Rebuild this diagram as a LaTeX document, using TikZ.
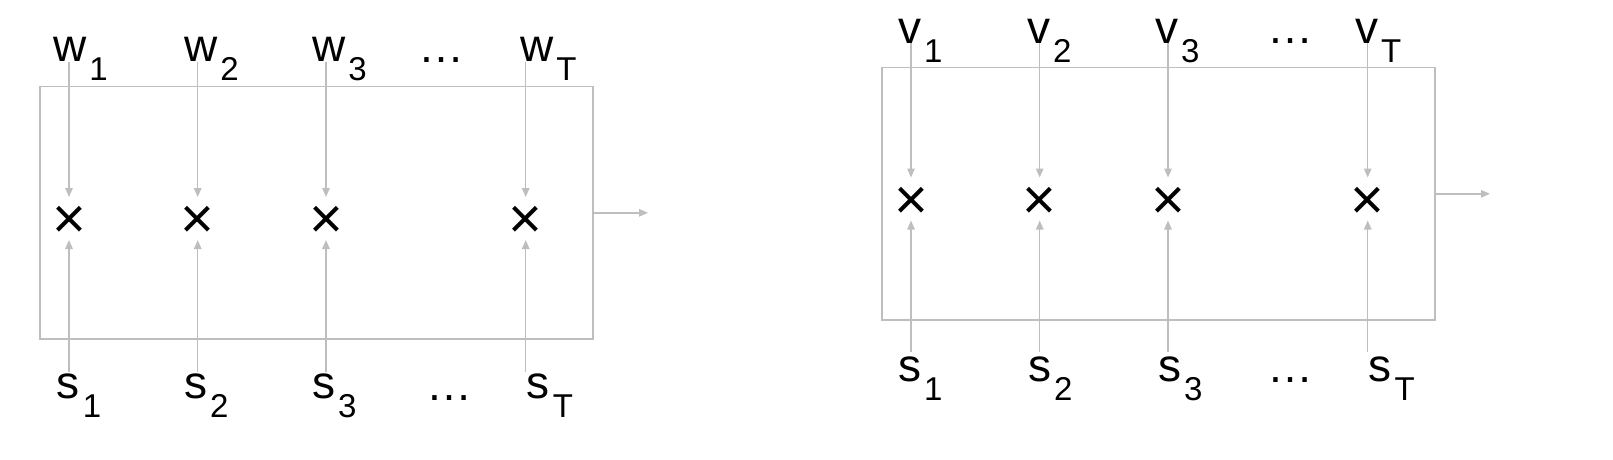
\documentclass[tikz,border=0pt]{standalone}
\usepackage{fontspec}
\setmainfont{Liberation Sans}
\usetikzlibrary{arrows.meta}
\newcommand{\mylbl}[2]{{\fontsize{46}{46}\selectfont #1}\kern3pt\raisebox{-19pt}{\fontsize{33}{33}\selectfont #2}}
\tikzset{
  box/.style={draw=linegray, line width=1.6pt},
  conn/.style={draw=linegray, line width=1.4pt, -{Triangle[length=9pt,width=7.5pt]}},
  lbl/.style={inner sep=0pt, anchor=base west},
  mult/.style={inner sep=0pt, font=\fontsize{58}{58}\selectfont},
  dots/.style={inner sep=0pt, anchor=base, font=\fontsize{46}{46}\selectfont},
  pt/.style={inner sep=0pt, minimum size=0pt}
}
\definecolor{linegray}{RGB}{190,190,190}
\begin{document}
\begin{tikzpicture}[x=1pt,y=-1pt]
\useasboundingbox (0,0) rectangle (1613,459);
% ---------- left block ----------
\node[box, pt, minimum width=553pt, minimum height=252.6pt, anchor=north west] (L) at (39,85.7) {};
\foreach \i/\cx/\lx in {1/69/53, 2/197.7/184, 3/326/312, T/525.7/520} {
  \node[mult] (Lx\i) at (\cx,222.5) {\symbol{"00D7}};
  \coordinate (Ltop\i) at (\cx,62);
  \coordinate (Lbot\i) at (\cx,371.7);
  \coordinate (Lti\i) at (\cx,197);
  \coordinate (Lbi\i) at (\cx,240);
  \node[lbl] (Lw\i) at (\lx,61.5) {\mylbl{w}{\i}};
  \draw[conn] (Ltop\i) -- (Lti\i);
  \draw[conn] (Lbot\i) -- (Lbi\i);
}
\foreach \i/\lx in {1/56.7, 2/184, 3/312, T/526.7} {
  \node[lbl] (Ls\i) at (\lx,398.3) {\mylbl{s}{\i}};
}
\node[dots] (Ldt) at (441,62) {\symbol{"2026}};
\node[dots] (Ldb) at (449,400) {\symbol{"2026}};
\coordinate (Lout) at (648,212);
\draw[conn] (L.east) -- (L.east -| Lout);
% ---------- right block ----------
\node[box, pt, minimum width=553.3pt, minimum height=252.6pt, anchor=north west] (R) at (881,66.7) {};
\foreach \i/\cx/\lx in {1/911/898, 2/1039.7/1027, 3/1168/1155, T/1367.7/1355} {
  \node[mult] (Rx\i) at (\cx,203) {\symbol{"00D7}};
  \coordinate (Rtop\i) at (\cx,43);
  \coordinate (Rbot\i) at (\cx,352.3);
  \coordinate (Rti\i) at (\cx,177.5);
  \coordinate (Rbi\i) at (\cx,220.5);
  \node[lbl] (Rv\i) at (\lx,43.3) {\mylbl{v}{\i}};
  \draw[conn] (Rtop\i) -- (Rti\i);
  \draw[conn] (Rbot\i) -- (Rbi\i);
}
\foreach \i/\lx in {1/898, 2/1028, 3/1158, T/1368.3} {
  \node[lbl] (Rs\i) at (\lx,381.7) {\mylbl{s}{\i}};
}
\node[dots] (Rdt) at (1290.5,43.7) {\symbol{"2026}};
\node[dots] (Rdb) at (1290.5,382) {\symbol{"2026}};
\coordinate (Rout) at (1490,193);
\draw[conn] (R.east) -- (R.east -| Rout);
\end{tikzpicture}
\end{document}
